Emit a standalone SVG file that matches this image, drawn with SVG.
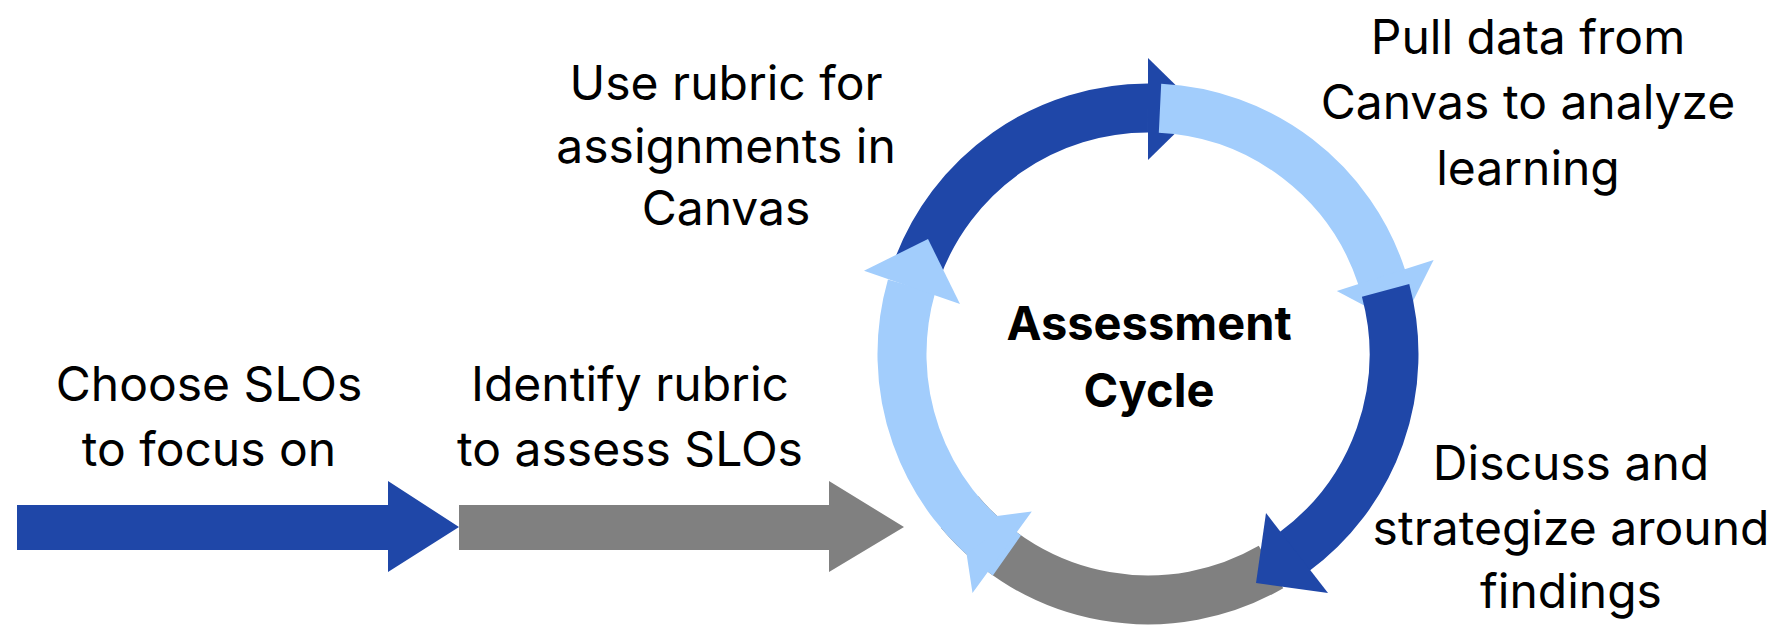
<svg xmlns="http://www.w3.org/2000/svg" width="1788" height="642" viewBox="0 0 1788 642">
<style>
text{font-family:Inter,"Noto Sans","Liberation Sans",sans-serif;font-size:48px;fill:#000;text-anchor:middle}
.b{font-weight:bold;font-size:47px}
.arc{fill:none;stroke-width:49}
</style>
<rect width="1788" height="642" fill="#fff"/>
<g id="connectors">
<polygon fill="#1f47a8" points="17,505 388,505 388,481 459,527 388,572 388,550 17,550"/>
<polygon fill="#808080" points="459,505 829,505 829,481 904,527 829,572 829,550 459,550"/>
</g>
<g id="cycle">
<path class="arc" stroke="#808080" d="M1271,567 A246,246 0 0 1 959.6,512.1"/>
<path class="arc" stroke="#a2cdfc" d="M1006.9,555.5 A246,246 0 0 1 911.5,286.2"/>
<polygon fill="#a2cdfc" points="997,516 1031.8,511.5 972.5,593 966.7,554.7 985,540"/>
<path class="arc" stroke="#1f47a8" d="M916.8,269.9 A246,246 0 0 1 1148,108"/>
<polygon fill="#1f47a8" points="1148,58 1200,109 1148,160"/>
<path class="arc" stroke="#a2cdfc" d="M1160,108.3 A246,246 0 0 1 1382,278"/>
<polygon fill="#a2cdfc" points="1336.8,291 1433.6,260 1401,325"/>
<path class="arc" stroke="#1f47a8" d="M1385.6,290.3 A246,246 0 0 1 1292.6,553"/>
<polygon fill="#1f47a8" points="1266,513 1328,593 1256,583"/>
<polygon fill="#a2cdfc" points="864,270.8 960,304 928,239"/>
</g>
<g id="center"><text class="b" x="1149" y="340">Assessment</text><text class="b" x="1149" y="407">Cycle</text></g>
<g id="n1"><text x="209" y="401">Choose SLOs</text><text x="209" y="466">to focus on</text></g>
<g id="n2"><text x="630" y="401">Identify rubric</text><text x="630" y="466">to assess SLOs</text></g>
<g id="n3"><text x="726" y="100">Use rubric for</text><text x="726" y="163">assignments in</text><text x="726" y="225">Canvas</text></g>
<g id="n4"><text x="1528" y="54">Pull data from</text><text x="1528" y="119">Canvas to analyze</text><text x="1528" y="185">learning</text></g>
<g id="n5"><text x="1571" y="480">Discuss and</text><text x="1571" y="545">strategize around</text><text x="1571" y="608">findings</text></g>
</svg>
